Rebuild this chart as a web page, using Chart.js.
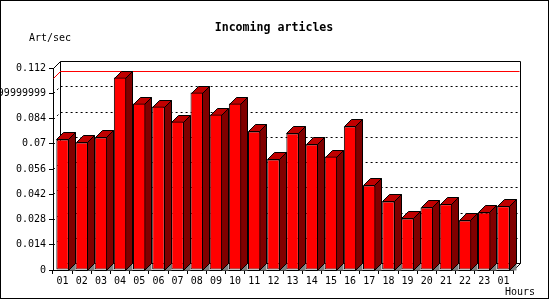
<!DOCTYPE html>
<html>
<head>
<meta charset="utf-8">
<script src="https://cdn.jsdelivr.net/npm/chart.js@4.4.1/dist/chart.umd.min.js"></script>
<style>
  html, body { margin: 0; padding: 0; background: #fff; }
  canvas { display: block; }
</style>
</head>
<body>
<canvas id="c" width="550" height="300"></canvas>
<script>
// ---- data ----
const hours = ['01','02','03','04','05','06','07','08','09','10','11','12',
               '13','14','15','16','17','18','19','20','21','22','23','01'];
const articlesPerSec = [0.0724, 0.0707, 0.0735, 0.1067, 0.0923, 0.0906, 0.0823, 0.0984,
                        0.0862, 0.0923, 0.0768, 0.0613, 0.0757, 0.0696, 0.0629, 0.0796,
                        0.0469, 0.0380, 0.0286, 0.0347, 0.0364, 0.0275, 0.0319, 0.0354];
const yTickValues = [0, 0.014, 0.028, 0.042, 0.056, 0.07, 0.084, 0.098, 0.112];
const yTickLabels = ['0', '0.014', '0.028', '0.042', '0.056', '0.07', '0.084',
                     '0.09799999999999999', '0.112'];
const titleText = 'Incoming articles';
const yAxisText = 'Art/sec';
const xAxisText = 'Hours';

// ---- styles ----
const DEPTH = 7;
const MONO = '"DejaVu Sans Mono", "Liberation Mono", monospace';
const FRONT = '#ff0000', SIDE = '#800000', TOP = '#c00000', FLOOR = '#808080';
const MAXLINE = '#ff0000';

function px(v) { return Math.round(v) + 0.5; }

const threeD = {
  id: 'threeD',
  beforeDatasetsDraw(chart) {
    const ctx = chart.ctx;
    const a = chart.chartArea;
    const ys = chart.scales.y;
    const d = DEPTH;
    const L = px(a.left), R = px(a.right), T = px(a.top), B = px(a.bottom);
    ctx.save();
    ctx.lineWidth = 1;
    // dotted grid lines on back wall + left wall
    ctx.strokeStyle = '#000';
    ctx.setLineDash([2, 3]);
    yTickValues.forEach((v, i) => {
      if (i === 0 || i === yTickValues.length - 1) return;
      const y = px(ys.getPixelForValue(v));
      ctx.beginPath();
      ctx.moveTo(L, y);
      ctx.lineTo(L + d, y - d);
      ctx.lineTo(R + d, y - d);
      ctx.stroke();
    });
    ctx.setLineDash([]);
    // back wall frame
    ctx.strokeStyle = '#000';
    ctx.beginPath();
    ctx.moveTo(L, T); ctx.lineTo(L + d, T - d);
    ctx.lineTo(R + d, T - d); ctx.lineTo(R + d, B - d);
    ctx.lineTo(R, B);
    ctx.moveTo(L + d, T - d); ctx.lineTo(L + d, B - d); ctx.lineTo(R + d, B - d);
    ctx.stroke();
    // max line in red (on left wall and back wall)
    const maxV = Math.max(...articlesPerSec);
    const ym = px(ys.getPixelForValue(maxV));
    ctx.beginPath();
    ctx.moveTo(L, ym); ctx.lineTo(L + d, ym - d); ctx.lineTo(R + d - 1, ym - d);
    ctx.strokeStyle = MAXLINE;
    ctx.stroke();
    // 3D faces of bars
    const meta = chart.getDatasetMeta(0);
    meta.data.forEach(el => {
      const p = el.getProps(['x', 'y', 'base', 'width'], true);
      const l = Math.round(p.x - p.width / 2) + 0.5;
      const r = Math.round(p.x + p.width / 2) - 0.5;
      const t = px(p.y);
      const b = px(p.base);
      // floor shadow triangle
      ctx.fillStyle = FLOOR;
      ctx.beginPath();
      ctx.moveTo(r, b); ctx.lineTo(r + d, b - d); ctx.lineTo(r + d, b); ctx.closePath();
      ctx.fill();
      // side
      ctx.fillStyle = SIDE;
      ctx.strokeStyle = '#000';
      ctx.beginPath();
      ctx.moveTo(r, t); ctx.lineTo(r + d, t - d); ctx.lineTo(r + d, b - d); ctx.lineTo(r, b);
      ctx.closePath();
      ctx.fill(); ctx.stroke();
      // top
      ctx.fillStyle = TOP;
      ctx.beginPath();
      ctx.moveTo(l, t); ctx.lineTo(l + d, t - d); ctx.lineTo(r + d, t - d); ctx.lineTo(r, t);
      ctx.closePath();
      ctx.fill(); ctx.stroke();
    });
    ctx.restore();
  },
  afterDraw(chart) {
    const ctx = chart.ctx;
    ctx.save();
    ctx.fillStyle = '#000';
    ctx.textBaseline = 'middle';
    ctx.textAlign = 'center';
    ctx.font = 'bold 11.6px ' + MONO;
    ctx.fillText(titleText, 274, 27.5);
    ctx.font = '10px ' + MONO;
    ctx.textAlign = 'left';
    ctx.fillText(yAxisText, 29, 38);
    ctx.fillText(xAxisText, 505, 292);
    // outer frame
    ctx.strokeStyle = '#000';
    ctx.lineWidth = 1;
    ctx.strokeRect(0.5, 0.5, 548, 298);
    ctx.restore();
  }
};

new Chart(document.getElementById('c'), {
  type: 'bar',
  data: {
    labels: hours,
    datasets: [{
      data: articlesPerSec,
      backgroundColor: FRONT,
      borderColor: '#000',
      borderWidth: 1,
      borderSkipped: false,
      barPercentage: 0.65,
      categoryPercentage: 1.0
    }]
  },
  options: {
    responsive: false,
    animation: false,
    devicePixelRatio: 1,
    layout: { padding: { top: 68, right: 37, bottom: 0, left: 0 } },
    plugins: { legend: { display: false }, title: { display: false }, tooltip: { enabled: false } },
    scales: {
      x: {
        grid: { offset: true, drawOnChartArea: false, drawTicks: true, tickLength: 4, color: '#000' },
        border: { color: '#000' },
        ticks: { color: '#000', font: { family: MONO, size: 10 }, padding: 1,
                 autoSkip: false, maxRotation: 0 },
        afterFit: s => { s.height = 30; }
      },
      y: {
        min: 0, max: 0.112,
        afterBuildTicks: s => { s.ticks = yTickValues.map(v => ({ value: v })); },
        grid: { drawOnChartArea: false, tickLength: 4, color: '#000' },
        border: { color: '#000' },
        ticks: { color: '#000', font: { family: MONO, size: 10 }, padding: 3,
                 callback: (v, i) => yTickLabels[i] },
        afterFit: s => { s.width = 53; }
      }
    }
  },
  plugins: [threeD]
});
</script>
</body>
</html>
